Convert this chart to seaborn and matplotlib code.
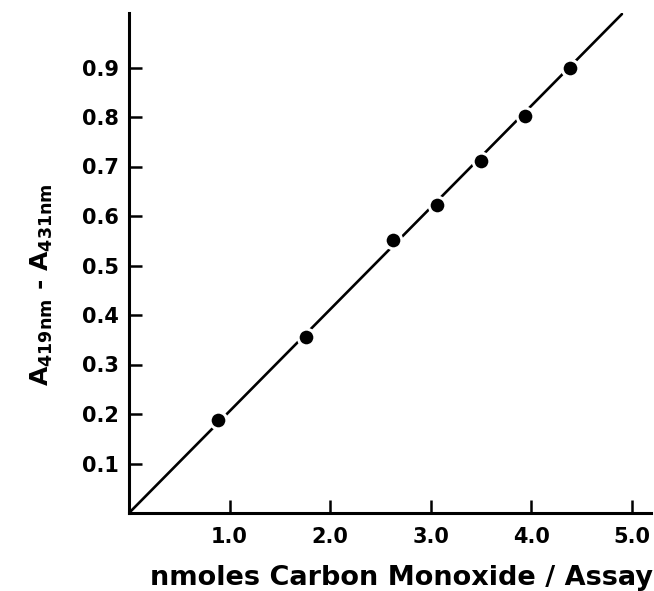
import matplotlib
matplotlib.use("Agg")
import matplotlib.pyplot as plt
import seaborn as sns
import pandas as pd

# data
co_nmol = [0.88, 1.76, 2.62, 3.06, 3.50, 3.94, 4.38]
absorb_diff = [0.188, 0.356, 0.552, 0.622, 0.711, 0.802, 0.898]
fit_x = [0.0, 4.90]
fit_y = [0.0, 1.008]
x_ticks = [1.0, 2.0, 3.0, 4.0, 5.0]
x_ticklabels = ["1.0", "2.0", "3.0", "4.0", "5.0"]
y_ticks = [0.1, 0.2, 0.3, 0.4, 0.5, 0.6, 0.7, 0.8, 0.9]
y_ticklabels = ["0.1", "0.2", "0.3", "0.4", "0.5", "0.6", "0.7", "0.8", "0.9"]

sns.set_theme(style="ticks")
plt.rcParams["font.family"] = ["DejaVu Sans"]

pts = pd.DataFrame({"x": co_nmol, "y": absorb_diff})
fit = pd.DataFrame({"x": fit_x, "y": fit_y})

fig = plt.figure(figsize=(6.54, 5.91), dpi=100)
ax = fig.add_axes([129 / 654, 78 / 591, 522 / 654, 500 / 591])

sns.lineplot(data=fit, x="x", y="y", ax=ax, color="black", linewidth=1.9, zorder=2)
sns.scatterplot(data=pts, x="x", y="y", ax=ax, color="black", s=145,
                edgecolor="white", linewidth=2.2, zorder=3)

ax.set_xlim(0, 522 / 100.6)
ax.set_ylim(0, 500 / 495)
ax.set_xticks(x_ticks)
ax.set_xticklabels(x_ticklabels)
ax.set_yticks(y_ticks)
ax.set_yticklabels(y_ticklabels)

for s in ["top", "right"]:
    ax.spines[s].set_visible(False)
for s in ["left", "bottom"]:
    ax.spines[s].set_linewidth(2.2)
    ax.spines[s].set_color("black")

ax.tick_params(axis="both", direction="in", length=9.5, width=1.8, colors="black",
               labelsize=15)
ax.tick_params(axis="y", pad=7)
ax.tick_params(axis="x", pad=10)
for lab in ax.get_xticklabels() + ax.get_yticklabels():
    lab.set_fontweight("bold")

ax.set_xlabel("nmoles Carbon Monoxide / Assay", fontsize=19.5, fontweight="bold",
              color="black", va="center")
ax.xaxis.set_label_coords(0.521, -0.13)
ax.set_ylabel(r"$\mathbf{A_{419nm}}$ - $\mathbf{A_{431nm}}$", fontsize=18,
              fontweight="bold", color="black", va="center")
ax.yaxis.set_label_coords(-0.167, 0.456)

fig.savefig("out.png", dpi=100)
